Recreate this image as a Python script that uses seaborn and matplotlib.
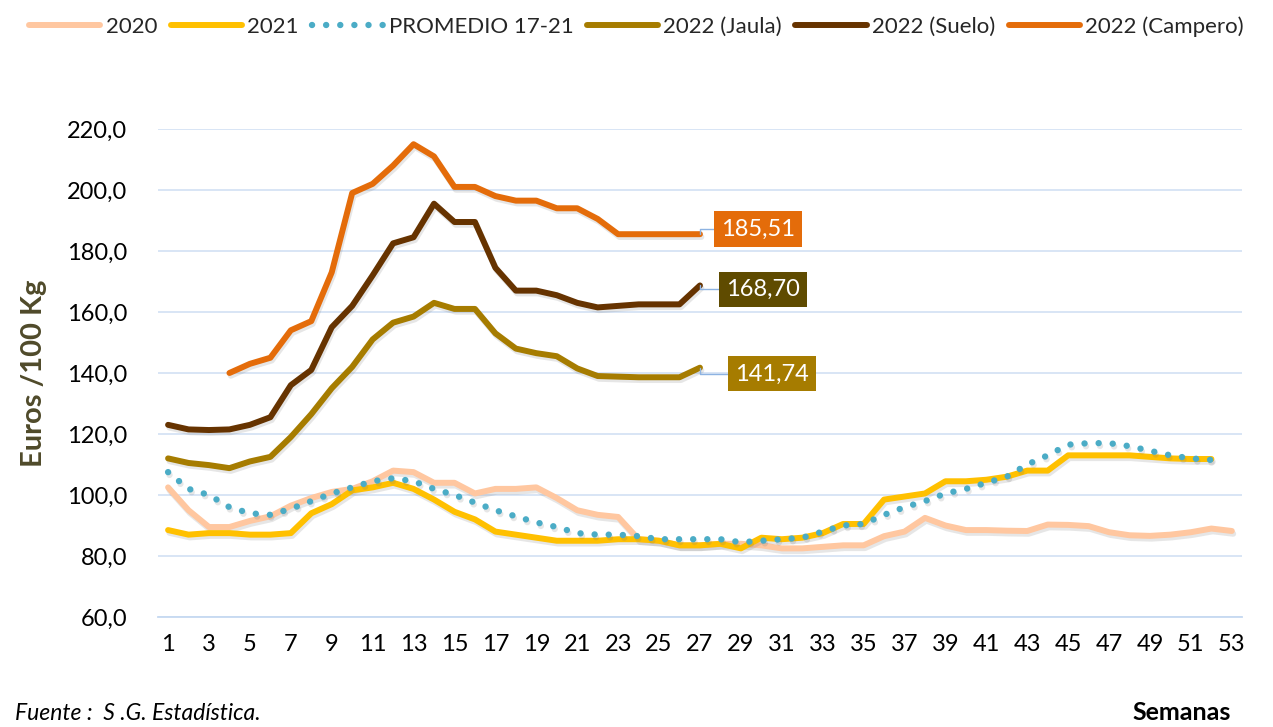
import numpy as np
import pandas as pd
import matplotlib
matplotlib.use("Agg")
import matplotlib.pyplot as plt
import matplotlib.patheffects as pe
from matplotlib.lines import Line2D
from matplotlib.ticker import FixedLocator, FuncFormatter
import seaborn as sns

sns.set_theme(style="white")
plt.rcParams['font.family'] = ['Lato', 'DejaVu Sans']

weeks_2020 = list(range(1, 54))
v2020 = [102.5, 95.0, 89.5, 89.5, 91.5, 93.0, 96.5, 99.0, 101.0, 102.0,
         104.5, 108.0, 107.5, 104.0, 104.0, 100.5, 102.0, 102.0, 102.5, 99.0,
         95.0, 93.5, 92.8, 85.5, 85.0, 83.5, 83.5, 84.0, 84.0, 83.5,
         82.5, 82.5, 83.0, 83.5, 83.5, 86.5, 88.0, 92.5, 90.0, 88.5,
         88.5, 88.3, 88.2, 90.3, 90.2, 89.8, 87.8, 86.8, 86.6, 87.0,
         87.8, 89.0, 88.2]
weeks_2021 = list(range(1, 53))
v2021 = [88.5, 87.0, 87.5, 87.5, 87.0, 87.0, 87.5, 94.0, 97.0, 101.5,
         102.5, 104.0, 102.0, 98.5, 94.5, 92.0, 88.0, 87.0, 86.0, 85.0,
         85.0, 85.0, 85.5, 85.5, 85.0, 83.5, 83.5, 84.0, 82.5, 86.0,
         85.5, 86.0, 87.5, 90.5, 90.5, 98.5, 99.5, 100.5, 104.5, 104.5,
         105.0, 106.0, 108.0, 108.0, 113.0, 113.0, 113.0, 113.0, 112.5, 112.0,
         111.8, 111.8]
weeks_prom = list(range(1, 53))
vprom = [107.5, 102.0, 100.0, 96.0, 94.0, 93.5, 95.5, 98.0, 100.5, 102.5,
         104.5, 105.5, 104.5, 102.0, 100.0, 97.5, 95.0, 93.0, 91.0, 89.5,
         87.5, 87.0, 87.0, 86.5, 85.5, 85.5, 85.5, 85.5, 84.5, 85.0,
         85.5, 86.0, 88.0, 90.0, 90.5, 93.5, 96.0, 98.0, 100.5, 102.0,
         104.0, 106.0, 110.0, 113.0, 116.5, 117.0, 117.0, 116.0, 114.5, 113.0,
         112.0, 111.5]
weeks_2022 = list(range(1, 28))
vjaula = [112.0, 110.5, 109.8, 108.8, 111.0, 112.5, 119.0, 126.5, 135.0, 142.0,
          151.0, 156.5, 158.5, 163.0, 161.0, 161.0, 153.0, 148.0, 146.5, 145.5,
          141.5, 139.0, 138.8, 138.6, 138.6, 138.6, 141.74]
vsuelo = [123.0, 121.5, 121.3, 121.5, 123.0, 125.5, 136.0, 141.0, 155.0, 162.0,
          172.0, 182.5, 184.5, 195.5, 189.5, 189.5, 174.5, 167.0, 167.0, 165.5,
          163.0, 161.5, 162.0, 162.5, 162.5, 162.5, 168.70]
weeks_campero = list(range(4, 28))
vcampero = [140.0, 143.0, 145.0, 154.0, 157.0, 173.0, 199.0, 202.0, 208.0, 215.0,
            211.0, 201.0, 201.0, 198.0, 196.5, 196.5, 194.0, 194.0, 190.5, 185.5,
            185.5, 185.5, 185.5, 185.51]

names = ["2020", "2021", "PROMEDIO 17-21", "2022 (Jaula)", "2022 (Suelo)", "2022 (Campero)"]
colors = ["#FFC7A0", "#FFC000", "#4BACC6", "#A67C00", "#663300", "#E46C0A"]
x_ticks = list(range(1, 54, 2))
y_ticks = [60, 80, 100, 120, 140, 160, 180, 200, 220]
end_labels = ["141,74", "168,70", "185,51"]
label_bg = ["#A67C00", "#5F4B00", "#E46C0A"]

series = [(weeks_2020, v2020), (weeks_2021, v2021), (weeks_prom, vprom),
          (weeks_2022, vjaula), (weeks_2022, vsuelo), (weeks_campero, vcampero)]

fig = plt.figure(figsize=(12.73, 7.27), dpi=100)
ax = fig.add_axes([0.124, 0.1513, 0.8517, 0.6713])

shadow = [pe.SimpleLineShadow(offset=(1.0, -2.0), shadow_color="#777777", alpha=0.18),
          pe.Normal()]
lw = 4.3
dot_style = (0, (0.01, 2.2))
leg_handles = []
for (wx, wy), name, col in zip(series, names, colors):
    df = pd.DataFrame({"week": wx, "val": wy})
    before = len(ax.lines)
    sns.lineplot(data=df, x="week", y="val", ax=ax, color=col, linewidth=lw,
                 legend=False)
    ln = ax.lines[before]
    ln.set_solid_joinstyle("round")
    ln.set_solid_capstyle("round")
    is_dot = name.startswith("PROMEDIO")
    if is_dot:
        ln.set_linestyle(dot_style)
        ln.set_dash_capstyle("round")
        ln.set_linewidth(4.6)
        ln.set_zorder(5)
    ln.set_path_effects(shadow)
    h = Line2D([], [], color=col, linewidth=4.6 if is_dot else lw,
               linestyle=dot_style if is_dot else "-",
               solid_capstyle="round", dash_capstyle="round")
    leg_handles.append(h)

# end labels
ends = [(27, vjaula[-1], 30.5, 139.7), (27, vsuelo[-1], 30.1, 167.5),
        (27, vcampero[-1], 29.85, 187.2)]
for (x0, y0, tx, ty), lab, bg in zip(ends, end_labels, label_bg):
    ax.annotate(lab, xy=(x0, y0), xytext=(tx, ty), color="white", fontsize=17,
                ha="center", va="center",
                bbox=dict(boxstyle="square,pad=0.3", fc=bg, ec="none"),
                arrowprops=dict(arrowstyle="-", color="#8DB3E2", lw=1.0,
                                shrinkA=0, shrinkB=0,
                                connectionstyle="angle,angleA=0,angleB=90,rad=0"),
                zorder=10)

ax.set_xlim(0.5, 53.5)
ax.set_ylim(60, 220)
ax.yaxis.set_major_locator(FixedLocator(y_ticks))
ax.yaxis.set_major_formatter(FuncFormatter(lambda v, p: f"{v:.1f}".replace(".", ",")))
ax.xaxis.set_major_locator(FixedLocator(x_ticks))
ax.xaxis.set_major_formatter(FuncFormatter(lambda v, p: f"{int(v)}"))
ax.xaxis.set_minor_locator(FixedLocator(np.arange(0.5, 54, 1.0)))
ax.tick_params(axis="x", which="major", length=0, labelsize=17, pad=12, colors="black")
ax.tick_params(axis="x", which="minor", length=6, width=1, color="#C6D9F1", direction="out")
ax.tick_params(axis="y", length=0, labelsize=17, pad=22, colors="black")
ax.grid(axis="y", color="#D5E3F4", linewidth=1.3)
ax.grid(axis="x", visible=False)
for s in ["top", "right", "left"]:
    ax.spines[s].set_visible(False)
ax.spines["bottom"].set_color("#C6D9F1")
ax.spines["bottom"].set_linewidth(1.3)
ax.set_xlabel("")
ax.set_ylabel("Euros /100 Kg", fontsize=21, fontweight="bold", color="#4F4A2A", labelpad=14)

fig.legend(handles=leg_handles, labels=names, loc="upper center", bbox_to_anchor=(0.5, 1.005),
           ncol=6, frameon=False, fontsize=16, handlelength=3.2, handletextpad=0.25,
           columnspacing=0.6)

fig.text(0.012, 0.010, "Fuente :  S .G. Estadística.", fontsize=16.5, style="italic", color="black")
fig.text(0.967, 0.010, "Semanas", fontsize=18, fontweight="bold", ha="right", color="black")

fig.savefig("out.png", dpi=100)
